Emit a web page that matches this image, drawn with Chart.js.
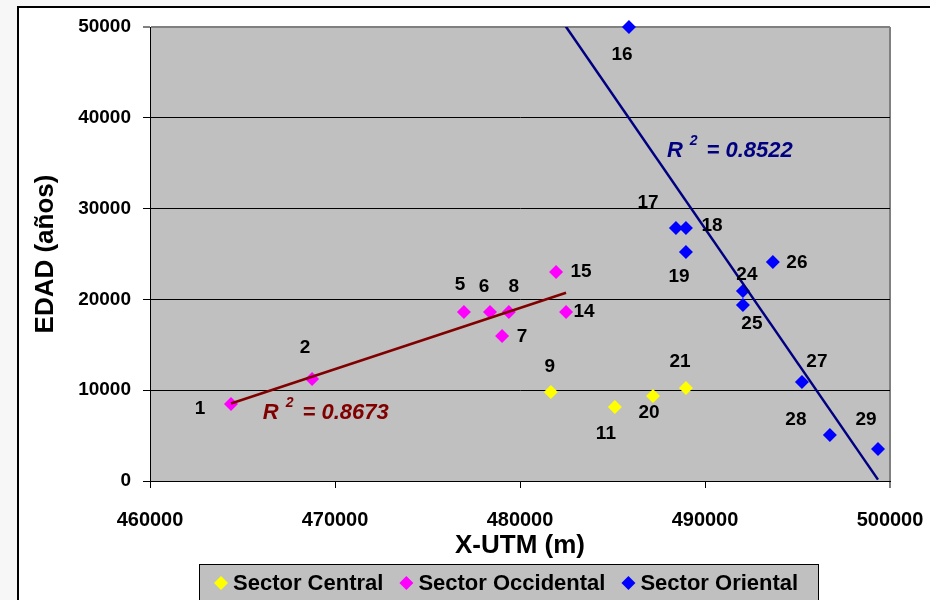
<!DOCTYPE html>
<html>
<head>
<meta charset="utf-8">
<script src="https://cdn.jsdelivr.net/npm/chart.js@4.4.1/dist/chart.umd.min.js"></script>
<style>
  html, body { margin: 0; padding: 0; background: #f7f7f7; }
  canvas { display: block; }
</style>
</head>
<body>
<canvas id="chart" width="930" height="600"></canvas>
<script>
// Sample numbers, UTM easting (m) and age (years) for each sector
const centralIds = [9, 11, 20, 21];
const centralX   = [481670, 485130, 487190, 488970];
const centralY   = [9800, 8150, 9360, 10240];

const occidentalIds = [1, 2, 5, 6, 7, 8, 14, 15];
const occidentalX   = [464380, 468760, 476970, 478380, 479030, 479400, 482490, 481950];
const occidentalY   = [8480, 11230, 18610, 18610, 15970, 18610, 18610, 23020];

const orientalIds = [16, 17, 18, 19, 24, 25, 26, 27, 28, 29];
const orientalX   = [485890, 488430, 488970, 488970, 492050, 492050, 493670, 495240, 496750, 499350];
const orientalY   = [50000, 27860, 27860, 25220, 20920, 19380, 24120, 10900, 5070, 3520];

const seriesNames = ['Sector Central', 'Sector Occidental', 'Sector Oriental'];
const r2Occidental = '0.8673';
const r2Oriental   = '0.8522';

// Axis ranges
const xTicks = [460000, 470000, 480000, 490000, 500000];
const yTicks = [0, 10000, 20000, 30000, 40000, 50000];

// Trend line for the eastern sector is extended backwards (m)
const orientalBackward = 4000;

const FONT = "'Liberation Sans', Arial, Helvetica, sans-serif";
Chart.defaults.font.family = FONT;
Chart.defaults.color = '#000';

const toPoints = (xs, ys) => xs.map((x, i) => ({ x, y: ys[i] }));

function linearFit(xs, ys) {
  const n = xs.length;
  const mx = xs.reduce((a, b) => a + b, 0) / n;
  const my = ys.reduce((a, b) => a + b, 0) / n;
  let sxy = 0, sxx = 0;
  for (let i = 0; i < n; i++) {
    sxy += (xs[i] - mx) * (ys[i] - my);
    sxx += (xs[i] - mx) * (xs[i] - mx);
  }
  const slope = sxy / sxx;
  const icpt = my - slope * mx;
  return x => icpt + slope * x;
}

function trendPoints(xs, ys, backward) {
  const f = linearFit(xs, ys);
  const x0 = Math.min(...xs) - (backward || 0);
  const x1 = Math.max(...xs);
  return [{ x: x0, y: f(x0) }, { x: x1, y: f(x1) }];
}

// Label placement around each marker (px)
const labelOffsets = {
  1: [-31, 5], 2: [-7, -31], 5: [-4, -27], 6: [-6, -25], 7: [20, 1], 8: [5, -25],
  14: [18, 0], 15: [25, 0], 9: [-1, -25], 11: [-9, 27], 20: [-4, 17], 21: [-6, -26],
  16: [-7, 28], 17: [-28, -25], 18: [26, -2], 19: [-7, 25], 24: [4, -16], 25: [9, 19],
  26: [24, 1], 27: [15, -20], 28: [-34, -15], 29: [-12, -29]
};

// Where each R² caption starts (data coordinates of its baseline)
const r2Anchors = [
  { text: r2Occidental, x: 466100, y: 6800, color: '#800000' },
  { text: r2Oriental,   x: 487940, y: 35700, color: '#000080' }
];

const markerStyle = color => ({
  backgroundColor: color, borderColor: color, borderWidth: 0,
  pointStyle: 'rectRot', pointRadius: 7, pointHoverRadius: 7,
  showLine: false, clip: false
});

const pageBackground = {
  id: 'pageBackground',
  beforeDraw(chart) {
    const { ctx, chartArea: a } = chart;
    ctx.save();
    ctx.fillStyle = '#f7f7f7';
    ctx.fillRect(0, 0, chart.width, chart.height);
    ctx.fillStyle = '#ffffff';
    ctx.fillRect(18, 7, chart.width, chart.height);
    ctx.strokeStyle = '#000';
    ctx.lineWidth = 2;
    ctx.strokeRect(18, 7, chart.width + 10, chart.height + 10);
    ctx.fillStyle = '#c0c0c0';
    ctx.fillRect(a.left, a.top, a.right - a.left, a.bottom - a.top);
    ctx.restore();
  }
};

const pointLabels = {
  id: 'pointLabels',
  afterDatasetsDraw(chart) {
    const { ctx } = chart;
    ctx.save();
    ctx.font = 'bold 19px ' + FONT;
    ctx.fillStyle = '#000';
    ctx.textAlign = 'center';
    ctx.textBaseline = 'middle';
    chart.data.datasets.forEach((ds, di) => {
      if (!ds.ids) return;
      const meta = chart.getDatasetMeta(di);
      meta.data.forEach((el, i) => {
        const id = ds.ids[i];
        const off = labelOffsets[id] || [0, -20];
        ctx.fillText(String(id), el.x + off[0], el.y + off[1]);
      });
    });
    // R² captions
    const xs = chart.scales.x, ys = chart.scales.y;
    r2Anchors.forEach(r => {
      let px = xs.getPixelForValue(r.x);
      const py = ys.getPixelForValue(r.y);
      ctx.fillStyle = r.color;
      ctx.textAlign = 'left';
      ctx.textBaseline = 'alphabetic';
      ctx.font = 'italic bold 22px ' + FONT;
      ctx.fillText('R', px, py);
      px += ctx.measureText('R').width + 7;
      ctx.font = 'italic bold 14px ' + FONT;
      ctx.fillText('2', px, py - 12);
      px += ctx.measureText('2').width + 9;
      ctx.font = 'italic bold 22px ' + FONT;
      ctx.fillText('= ' + r.text, px, py);
    });
    ctx.restore();
  }
};

const boxedLegend = {
  id: 'boxedLegend',
  afterDraw(chart) {
    const { ctx } = chart;
    ctx.save();
    ctx.fillStyle = '#c0c0c0';
    ctx.fillRect(199, 564, 620, 60);
    ctx.strokeStyle = '#000';
    ctx.lineWidth = 1;
    ctx.strokeRect(199.5, 564.5, 619, 60);
    ctx.font = 'bold 22px ' + FONT;
    ctx.textBaseline = 'middle';
    ctx.textAlign = 'left';
    const cy = 583;
    let x = 214;
    chart.data.datasets.forEach(ds => {
      if (!ds.ids) return;
      const r = 7;
      ctx.fillStyle = ds.backgroundColor;
      ctx.beginPath();
      ctx.moveTo(x + r, cy - r);
      ctx.lineTo(x + 2 * r, cy);
      ctx.lineTo(x + r, cy + r);
      ctx.lineTo(x, cy);
      ctx.closePath();
      ctx.fill();
      ctx.fillStyle = '#000';
      ctx.fillText(ds.label, x + 19, cy + 1);
      x += 19 + ctx.measureText(ds.label).width + 16;
    });
    ctx.restore();
  }
};

new Chart(document.getElementById('chart'), {
  type: 'scatter',
  data: {
    datasets: [
      { label: seriesNames[0], ids: centralIds, data: toPoints(centralX, centralY), ...markerStyle('#ffff00') },
      { label: seriesNames[1], ids: occidentalIds, data: toPoints(occidentalX, occidentalY), ...markerStyle('#ff00ff') },
      { label: seriesNames[2], ids: orientalIds, data: toPoints(orientalX, orientalY), ...markerStyle('#0000ff') },
      {
        label: 'Lineal (Sector Occidental)', type: 'line', order: -1,
        data: trendPoints(occidentalX, occidentalY, 0),
        borderColor: '#800000', borderWidth: 2.5, pointRadius: 0, showLine: true, clip: 0
      },
      {
        label: 'Lineal (Sector Oriental)', type: 'line', order: -1,
        data: trendPoints(orientalX, orientalY, orientalBackward),
        borderColor: '#000080', borderWidth: 2.5, pointRadius: 0, showLine: true, clip: 0
      }
    ]
  },
  options: {
    responsive: false,
    animation: false,
    devicePixelRatio: 1,
    layout: { padding: { top: 27, right: 40, bottom: 0, left: 0 }, autoPadding: false },
    plugins: { legend: { display: false }, tooltip: { enabled: false } },
    scales: {
      x: {
        type: 'linear',
        min: xTicks[0], max: xTicks[xTicks.length - 1],
        afterBuildTicks: s => { s.ticks = xTicks.map(v => ({ value: v })); },
        ticks: { font: { size: 20, weight: 'bold' }, color: '#000', padding: 20, maxRotation: 0, callback: v => String(v) },
        grid: {
          color: c => (c.tick && c.tick.value === xTicks[xTicks.length - 1]) ? '#808080' : 'rgba(0,0,0,0)',
          lineWidth: c => (c.tick && c.tick.value === xTicks[xTicks.length - 1]) ? 2 : 1,
          tickColor: '#000', tickLength: 7, tickWidth: 1
        },
        border: { color: '#000', width: 1 },
        title: { display: true, text: 'X-UTM (m)', font: { size: 26, weight: 'bold' }, color: '#000', padding: { top: 0, bottom: 39 } },
        afterFit: s => { s.height = 119; s.paddingLeft = 0; s.paddingRight = 0; }
      },
      y: {
        type: 'linear',
        min: yTicks[0], max: yTicks[yTicks.length - 1],
        afterBuildTicks: s => { s.ticks = yTicks.map(v => ({ value: v })); },
        ticks: { font: { size: 19, weight: 'bold' }, color: '#000', padding: 12, callback: v => String(v) },
        grid: {
          color: c => (c.tick && c.tick.value === yTicks[yTicks.length - 1]) ? '#808080' : '#000',
          lineWidth: c => (c.tick && c.tick.value === yTicks[yTicks.length - 1]) ? 2 : 1,
          tickColor: '#000', tickLength: 7, tickWidth: 1
        },
        border: { color: '#000', width: 1 },
        title: { display: true, text: 'EDAD (años)', font: { size: 26, weight: 'bold' }, color: '#000', padding: { top: 30, bottom: 0 } },
        afterFit: s => { s.width = 150; s.paddingTop = 0; s.paddingBottom = 0; }
      }
    }
  },
  plugins: [pageBackground, pointLabels, boxedLegend]
});
</script>
</body>
</html>
